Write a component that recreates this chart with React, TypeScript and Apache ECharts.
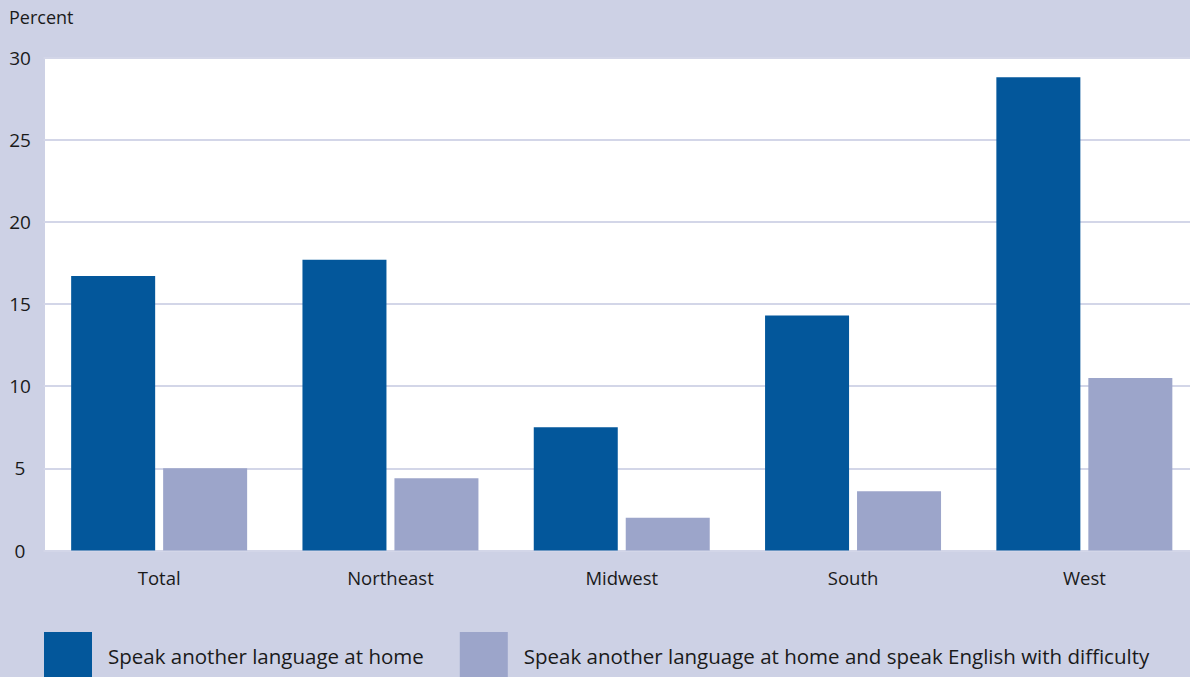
import React, { useEffect, useRef } from "react";
import * as echarts from "echarts";

const categories = ["Total", "Northeast", "Midwest", "South", "West"];
const speakOther = [16.7, 17.7, 7.5, 14.3, 28.8];
const speakDifficulty = [5.0, 4.4, 2.0, 3.6, 10.5];
const seriesNames = [
  "Speak another language at home",
  "Speak another language at home and speak English with difficulty",
];
const yTicks = { min: 0, max: 30, interval: 5 };

const FONT = "'Open Sans', sans-serif";

export default function App() {
  const ref = useRef<HTMLDivElement>(null);
  useEffect(() => {
    document.body.style.margin = "0";
    const chart = echarts.init(ref.current!, null, { renderer: "svg" });
    chart.setOption({
      animation: false,
      backgroundColor: "#cdd1e5",
      textStyle: { fontFamily: FONT },
      grid: {
        left: 43.5,
        right: 0,
        top: 57.5,
        bottom: 126.5,
        show: true,
        backgroundColor: "#ffffff",
        borderWidth: 0,
      },
      graphic: [
        {
          type: "rect",
          left: 43,
          top: 50,
          shape: { width: 2, height: 510 },
          style: { fill: "#cdd1e5" },
        },
        {
          type: "text",
          left: 9,
          top: 8,
          style: { text: "Percent", fontSize: 18, fontFamily: FONT, fill: "#1a1a1a" },
        },
      ],
      legend: {
        left: 44,
        top: 632,
        padding: 0,
        itemWidth: 48,
        itemHeight: 48,
        itemGap: 36,
        icon: "rect",
        selectedMode: false,
        textStyle: { fontSize: 20.5, color: "#1a1a1a", fontFamily: FONT, padding: [13, 0, 0, 11] },
        data: seriesNames,
      },
      xAxis: {
        type: "category",
        data: categories,
        axisLine: { show: false },
        axisTick: { show: false },
        axisLabel: { fontSize: 18.5, color: "#1a1a1a", margin: 17, fontFamily: FONT },
      },
      yAxis: {
        type: "value",
        min: yTicks.min,
        max: yTicks.max,
        interval: yTicks.interval,
        axisLine: { show: false },
        axisTick: { show: false },
        axisLabel: { fontSize: 19, color: "#1a1a1a", align: "center", margin: 23.5, fontFamily: FONT },
        splitLine: { lineStyle: { color: "#d3d6e8", width: 2 } },
      },
      series: [
        {
          name: seriesNames[0],
          type: "bar",
          data: speakOther,
          barWidth: 84,
          barGap: "9.5%",
          itemStyle: { color: "#03579b" },
        },
        {
          name: seriesNames[1],
          type: "bar",
          data: speakDifficulty,
          barWidth: 84,
          itemStyle: { color: "#9ca5ca" },
        },
      ],
    });
    return () => chart.dispose();
  }, []);
  return (
    <div style={{ width: 1190, height: 677, overflow: "hidden", position: "relative" }}>
      <div ref={ref} style={{ width: 1200, height: 677 }} />
    </div>
  );
}
